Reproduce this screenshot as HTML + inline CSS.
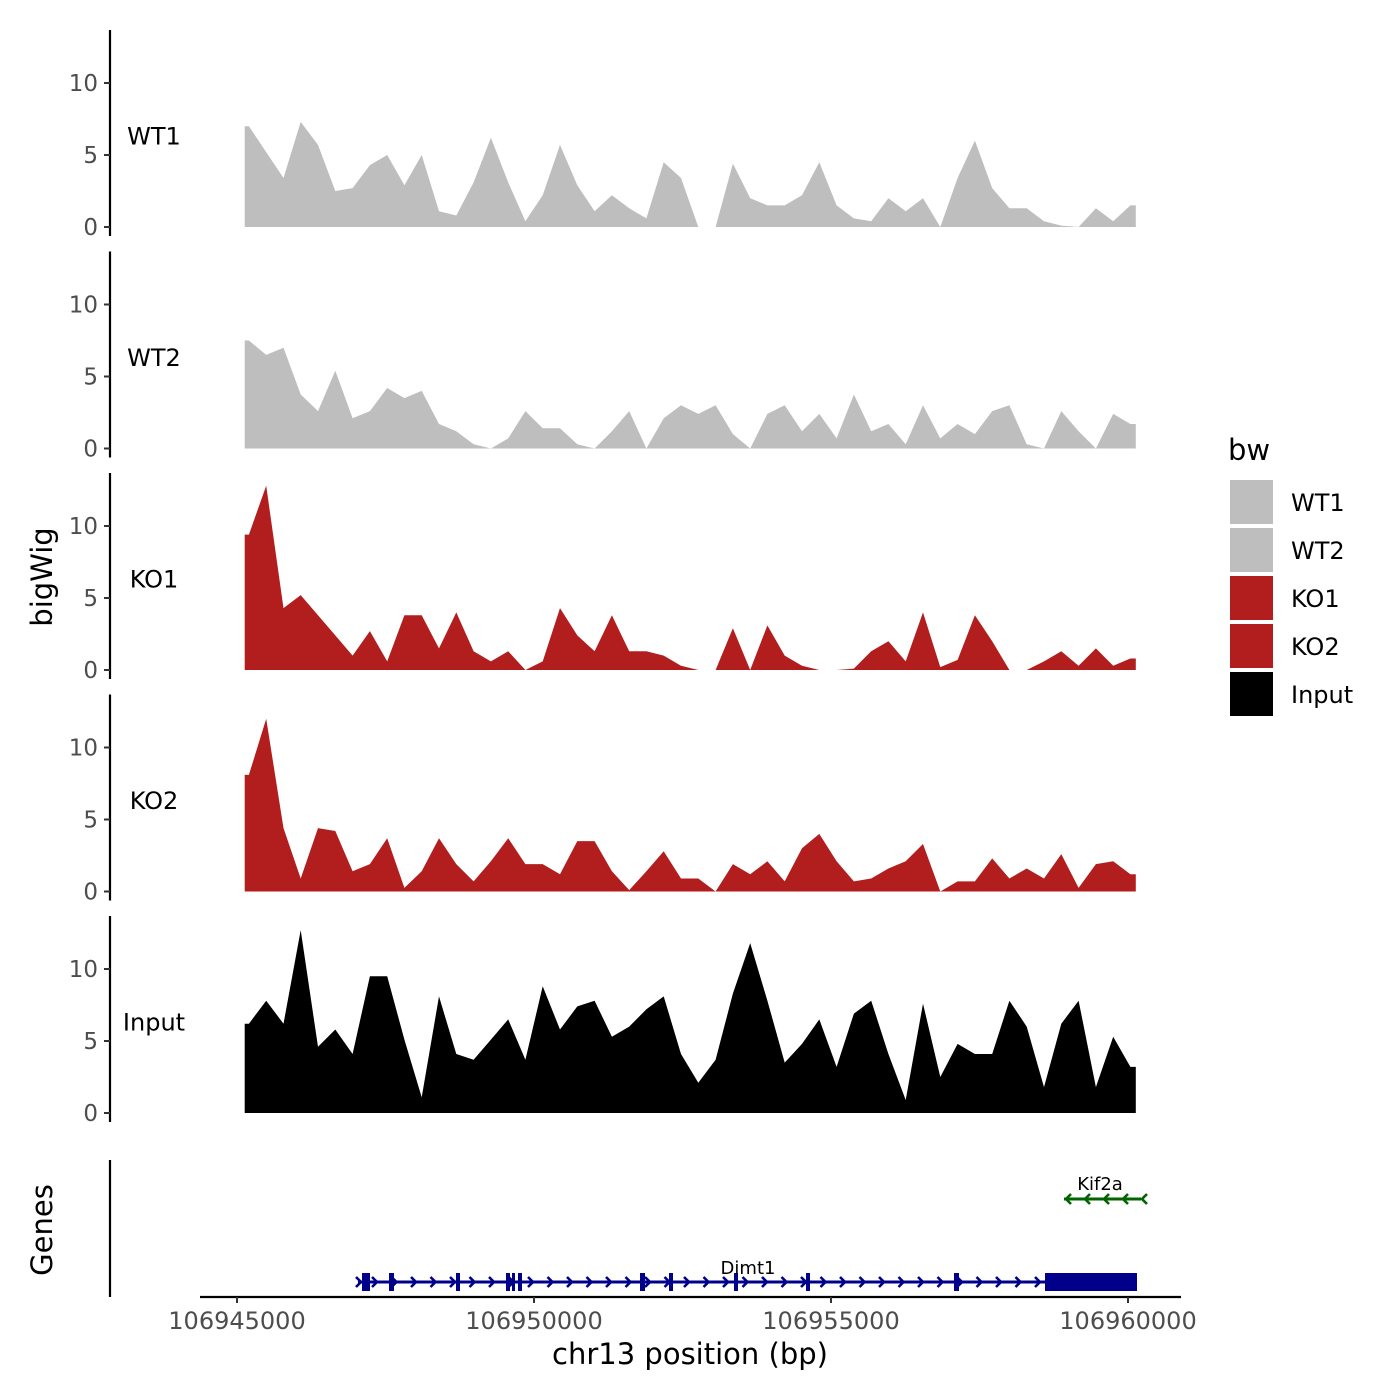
<!DOCTYPE html>
<html><head><meta charset="utf-8"><style>
html,body{margin:0;padding:0;background:#fff;}
svg{display:block;font-family:"DejaVu Sans","Liberation Sans",sans-serif;}
</style></head><body>
<svg id="chart" width="1400" height="1400" viewBox="0 0 1400 1400" xmlns="http://www.w3.org/2000/svg">
<rect x="0" y="0" width="1400" height="1400" fill="#fff"/>
<g id="tracks"></g>
<g id="genes"></g>
<text x="0" y="0" transform="translate(52,577) rotate(-90)" text-anchor="middle" font-size="29" fill="#000">bigWig</text>
<text x="0" y="0" transform="translate(52,1230) rotate(-90)" text-anchor="middle" font-size="29" fill="#000">Genes</text>
<text x="690" y="1364" text-anchor="middle" font-size="29" fill="#000">chr13 position (bp)</text>
<g id="xaxis"></g>
<g id="legend"></g>
</svg>
<script>
const trackNames = ["WT1","WT2","KO1","KO2","Input"];
const trackColors = ["#bebebe","#bebebe","#b21e1e","#b21e1e","#000000"];
const posStart = 106945200;
const posStep = 291;
const wt1 = [7,5.2,3.4,7.3,5.7,2.5,2.7,4.3,5,2.9,5,1.1,0.8,3.1,6.2,3.1,0.4,2.2,5.7,2.9,1.1,2.2,1.3,0.6,4.5,3.4,0,0,4.4,2,1.5,1.5,2.2,4.5,1.5,0.6,0.4,2,1.1,2,0,3.4,6,2.7,1.3,1.3,0.4,0.1,0,1.3,0.4,1.5];
const wt2 = [7.5,6.5,7,3.75,2.6,5.4,2.1,2.6,4.2,3.5,4,1.7,1.2,0.3,0,0.7,2.6,1.4,1.4,0.3,0,1.2,2.6,0,2.1,3,2.4,3,1,0,2.4,3,1.2,2.4,0.7,3.75,1.2,1.7,0.3,3,0.7,1.7,1,2.6,3,0.3,0,2.6,1.2,0,2.4,1.7];
const ko1 = [9.4,12.8,4.3,5.2,3.8,2.4,1,2.7,0.6,3.8,3.8,1.5,4,1.3,0.6,1.3,0,0.6,4.3,2.4,1.3,3.8,1.3,1.3,1,0.3,0,0,2.9,0,3.1,1,0.3,0,0,0.1,1.3,2,0.6,4,0.2,0.7,3.8,2,0,0,0.6,1.3,0.3,1.5,0.3,0.8];
const ko2 = [8.1,12,4.4,0.9,4.4,4.2,1.4,1.9,3.7,0.25,1.4,3.7,1.9,0.7,2.1,3.7,1.9,1.9,1.2,3.5,3.5,1.4,0.1,1.4,2.8,0.9,0.9,0,1.9,1.2,2.1,0.7,3,4,2.1,0.7,0.9,1.6,2.1,3.3,0,0.7,0.7,2.3,0.9,1.6,0.9,2.6,0.25,1.9,2.1,1.2];
const input = [6.2,7.8,6.2,12.7,4.6,5.8,4.1,9.5,9.5,5.1,1.1,8.1,4.1,3.7,5.1,6.5,3.7,8.8,5.8,7.4,7.8,5.3,6,7.2,8.1,4.1,2.1,3.7,8.3,11.8,7.8,3.5,4.8,6.5,3.2,6.9,7.8,4.1,0.9,7.6,2.5,4.8,4.1,4.1,7.8,6,1.8,6.2,7.8,1.8,5.3,3.2];
const trackData = [wt1,wt2,ko1,ko2,input];
const yTicks = [0,5,10];
const xTicks = [106945000,106950000,106955000,106960000];
const xTickLabels = ["106945000","106950000","106955000","106960000"];

const NS="http://www.w3.org/2000/svg";
function mk(tag, attrs, parent){const e=document.createElementNS(NS,tag);for(const k in attrs)e.setAttribute(k,attrs[k]);parent.appendChild(e);return e;}
function xScale(bp){return 237 + (bp-106945000)*(891/15000);}
function yScale(panel,v){return 227 + panel*221.5 - v*14.4;}

const tracks=document.getElementById('tracks');
trackData.forEach((arr,p)=>{
  const g=mk('g',{},tracks);
  
  
  const base=yScale(p,0);
  const x0=xScale(posStart-70);
  let d='M'+x0.toFixed(1)+','+base+' L'+x0.toFixed(1)+','+yScale(p,arr[0]).toFixed(1);
  arr.forEach((v,i)=>{d+=' L'+xScale(posStart+i*posStep).toFixed(1)+','+yScale(p,v).toFixed(1);});
  const xe=xScale(posStart+(arr.length-1)*posStep+90);
  d+=' L'+xe.toFixed(1)+','+yScale(p,arr[arr.length-1]).toFixed(1)+' L'+xe.toFixed(1)+','+base+' Z';
  const path=mk('path',{d:d,fill:trackColors[p]},g);
  
  
  const top=30+p*221.5;
  const ax=mk('line',{x1:110,x2:110,y1:top,y2:top+206,stroke:'#000','stroke-width':2.2},g);
  
  
  yTicks.forEach(t=>{
    const y=yScale(p,t);
    const tk=mk('line',{x1:104,x2:110,y1:y,y2:y,stroke:'#333','stroke-width':2},g);
    
    
    const tl=mk('text',{x:98,y:y+8,'text-anchor':'end','font-size':23,fill:'#4d4d4d'},g);
    tl.textContent=String(t);
    
    
  });
  const lab=mk('text',{x:154,y:yScale(p,6.3)+8,'text-anchor':'middle','font-size':24,fill:'#000'},g);
  lab.textContent=trackNames[p];
  
  
});

// genes
const genes=document.getElementById('genes');
mk('line',{x1:110,x2:110,y1:1160,y2:1297,stroke:'#000','stroke-width':2.2},genes);
const gy=1282;
mk('line',{x1:358,x2:1137,y1:gy,y2:gy,stroke:'#00008b','stroke-width':3},genes);
[[362,8],[389,5],[456,4],[506,4],[512,3],[518,4],[640,5],[669,4],[734,4],[806,4],[954,5]].forEach(e=>{
  const r=mk('rect',{x:e[0],y:gy-9,width:e[1],height:18,fill:'#00008b'},genes);
  
  
});
const big=mk('rect',{x:1045,y:gy-9,width:92,height:18,fill:'#00008b'},genes);


let ad='';
for(let x=375;x<1040;x+=19.5){ad+='M'+(x-3)+','+(gy-5)+' L'+(x+2)+','+gy+' L'+(x-3)+','+(gy+5)+' ';}
ad+='M356,'+(gy-5)+' L361,'+gy+' L356,'+(gy+5);
mk('path',{d:ad,stroke:'#00008b','stroke-width':2.6,fill:'none'},genes);
const dl=mk('text',{x:748,y:1274,'text-anchor':'middle','font-size':18,fill:'#000'},genes);
dl.textContent='Dimt1';


const ky=1199;
mk('line',{x1:1064,x2:1141,y1:ky,y2:ky,stroke:'#006400','stroke-width':3},genes);
let kd='';
for(let x=1066;x<1145;x+=19){kd+='M'+(x+5)+','+(ky-5)+' L'+x+','+ky+' L'+(x+5)+','+(ky+5)+' ';}
mk('path',{d:kd,stroke:'#006400','stroke-width':2.6,fill:'none'},genes);
const kl=mk('text',{x:1100,y:1190,'text-anchor':'middle','font-size':18,fill:'#000'},genes);
kl.textContent='Kif2a';



// x axis
const xa=document.getElementById('xaxis');
mk('line',{x1:200,x2:1181,y1:1297,y2:1297,stroke:'#000','stroke-width':2.2},xa);
xTicks.forEach((t,i)=>{
  const x=xScale(t);
  const tk=mk('line',{x1:x,x2:x,y1:1297,y2:1303,stroke:'#333','stroke-width':2},xa);
  
  
  const tl=mk('text',{x:x,y:1329,'text-anchor':'middle','font-size':24,fill:'#4d4d4d'},xa);
  tl.textContent=xTickLabels[i];
  
  
});

// legend
const lg=document.getElementById('legend');
const lt=mk('text',{x:1228,y:460,'font-size':29,fill:'#000'},lg);
lt.textContent='bw';


trackNames.forEach((n,i)=>{
  const y=480+i*48;
  const r=mk('rect',{x:1230,y:y,width:43,height:44,fill:trackColors[i]},lg);
  
  
  const t=mk('text',{x:1291,y:y+31,'font-size':24,fill:'#000'},lg);
  t.textContent=n;
  
  
});
</script>
</body></html>
